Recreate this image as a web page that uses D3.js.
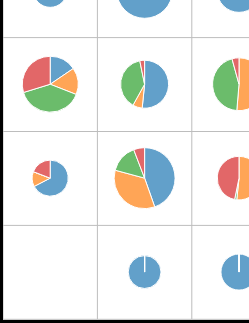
<!DOCTYPE html>
<html>
<head>
<meta charset="utf-8">
<script src="https://cdn.jsdelivr.net/npm/d3@7"></script>
<style>
  html, body { margin: 0; padding: 0; background: #fff; overflow: hidden; }
  .grid line { stroke: #bdbdbd; stroke-width: 1; }
  .slice { stroke: #fff; stroke-width: 1; fill-opacity: 0.7; }
</style>
</head>
<body>
<script>
const width = 249, height = 323;

// categories drawn in each pie (clockwise from 12 o'clock)
const categories = ['A', 'B', 'C', 'D'];
const rowKeys = ['r0', 'r1', 'r2', 'r3'];
const colKeys = ['c0', 'c1', 'c2'];

// one list of slice values per cell, row by row (null = empty cell)
const row0 = [[31, 0, 0, 0], [84, 0, 0, 0], [52, 0, 0, 0]];
const row1 = [[13, 13, 33, 25], [32, 4, 24, 2], [0, 38.5, 33.3, 3.2]];
const row2 = [[23.6, 4.7, 0, 6.7], [44.6, 34.6, 15, 5.8], [0, 26.4, 0.8, 23.9]];
const row3 = [null, [29, 0, 0, 0], [35, 0, 0, 0]];
const rows = [row0, row1, row2, row3];

const svg = d3.select('body').append('svg')
  .attr('width', width)
  .attr('height', height);

const x = d3.scaleBand().domain(colKeys).range([3, 3 + 3 * 94.4]);
const y = d3.scaleBand().domain(rowKeys).range([319 - 4 * 93.9, 319]);

const color = d3.scaleOrdinal().domain(categories).range(d3.schemeCategory10.slice(0, 4));

const maxTotal = d3.max(rows.flat().filter(d => d), d => d3.sum(d));
const radius = d3.scaleSqrt().domain([0, maxTotal]).range([0, 30.5]);

const pie = d3.pie().sort(null).value(d => d.value);
const arc = d3.arc().innerRadius(0);

// grid lines
const grid = svg.append('g').attr('class', 'grid');
grid.selectAll('line.v')
  .data(colKeys.map(c => x(c)).concat([x.range()[1]]))
  .join('line')
  .attr('x1', d => d).attr('x2', d => d)
  .attr('y1', y.range()[0]).attr('y2', y.range()[1]);
grid.selectAll('line.h')
  .data(rowKeys.map(r => y(r)).concat([y.range()[1]]))
  .join('line')
  .attr('y1', d => d + 0.3).attr('y2', d => d + 0.3)
  .attr('x1', x.range()[0]).attr('x2', x.range()[1]);

// pies
rows.forEach((row, i) => {
  row.forEach((vals, j) => {
    if (!vals) return;
    const r = radius(d3.sum(vals));
    const g = svg.append('g')
      .attr('transform', `translate(${x(colKeys[j]) + x.bandwidth() / 2},${y(rowKeys[i]) + y.bandwidth() / 2})`);
    g.selectAll('path')
      .data(pie(vals.map((v, k) => ({cat: categories[k], value: v}))))
      .join('path')
      .attr('class', 'slice')
      .attr('fill', d => color(d.data.cat))
      .attr('d', d => arc.outerRadius(r)(d));
  });
});

// outer frame (only left and bottom edges are inside the window)
svg.append('rect')
  .attr('x', 1.5).attr('y', -200)
  .attr('width', 400).attr('height', 321.5 + 200)
  .attr('fill', 'none')
  .attr('stroke', '#000')
  .attr('stroke-width', 3);
</script>
</body>
</html>
